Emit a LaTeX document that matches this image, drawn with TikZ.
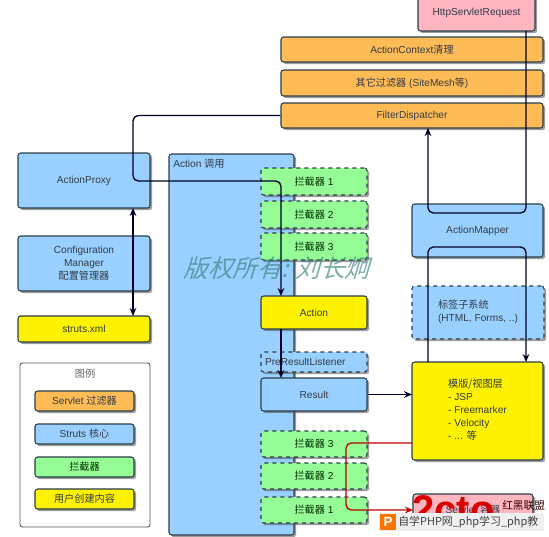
\documentclass[tikz,border=0pt]{standalone}
\usepackage{fontspec}
\setmainfont{Liberation Sans}
\newfontfamily\cjk{Noto Sans CJK SC}
\usetikzlibrary{shadows,arrows.meta}
\definecolor{orangebox}{RGB}{255,187,85}
\definecolor{bluebox}{RGB}{153,208,255}
\definecolor{greenbox}{RGB}{150,252,150}
\definecolor{pinkbox}{RGB}{255,182,193}
\definecolor{edgecol}{RGB}{40,62,72}
\definecolor{inktext}{RGB}{50,60,70}
\tikzset{
  basebox/.style={draw=edgecol,line width=.8pt,rounded corners=2pt,align=center,inner sep=0pt,
    text=inktext,font=\fontsize{7.6}{9.7}\selectfont,
    drop shadow={shadow xshift=1.6pt,shadow yshift=-1.6pt,fill=black!70,opacity=.55}},
  filterbox/.style={basebox,fill=orangebox},
  corebox/.style={basebox,fill=bluebox},
  userbox/.style={basebox,fill=yellow},
  requestbox/.style={basebox,fill=pinkbox},
  greenplain/.style={basebox,fill=greenbox,text=black!70!green!60!black},
  interceptbox/.style={greenplain,dashed},
  dashedcore/.style={basebox,fill=bluebox,dashed},
  legendbox/.style={draw=black!65,line width=.7pt,fill=white,rounded corners=2pt},
  flow/.style={draw=black!85!blue,line width=1pt,rounded corners=4pt,-{Stealth[length=6pt,width=5pt]}},
  plainflow/.style={draw=black!85!blue,line width=1pt,rounded corners=4pt},
  redflow/.style={draw=red!75!black,line width=1pt,rounded corners=4pt,-{Stealth[length=6pt,width=5pt]}},
  wm/.style={text=teal!55!gray,opacity=.65,font=\cjk\fontsize{18.4}{19}\selectfont,transform shape,xslant=.3,inner sep=0pt},
}
% box from pixel corners: name, x1, y1, x2, y2, style, text
\newcommand{\pxbox}[7]{%
  \pgfmathsetmacro{\bw}{(#4-#2)*.75}%
  \pgfmathsetmacro{\bh}{(#5-#3)*.75}%
  \node[#6,minimum width=\bw pt,minimum height=\bh pt] (#1) at ({(#2+#4)/2},{(#3+#5)/2}) {#7};}
\begin{document}
\begin{tikzpicture}[x=.75pt,y=-.75pt]
\useasboundingbox (0,0) rectangle (549,536);
\begin{scope}
\clip (0,0) rectangle (549,536);
% top boxes
\pxbox{req}{418}{-6}{535}{31}{requestbox}{HttpServletRequest}
\pxbox{acc}{281}{37}{543}{62}{filterbox}{ActionContext{\cjk 清理}}
\pxbox{oth}{281}{70}{543}{96}{filterbox}{{\cjk 其它过滤器} (SiteMesh{\cjk 等})}
\pxbox{fd}{281}{103}{543}{128}{filterbox}{FilterDispatcher}
% left column
\pxbox{proxy}{18}{153}{150}{208}{corebox}{ActionProxy}
\pxbox{conf}{18}{236}{150}{291}{corebox}{Configuration\\Manager\\{\cjk 配置管理器}}
\pxbox{xml}{18}{316}{150}{342}{userbox}{struts.xml}
% action container
\pxbox{inv}{169}{154}{294}{535}{corebox}{}
\node[text=inktext,font=\fontsize{7.6}{9}\selectfont,anchor=west,inner sep=0pt] (invlabel) at (173,164) {Action {\cjk 调用}};
% interceptors before
\pxbox{ia}{261}{168}{367}{195}{interceptbox}{{\cjk 拦截器} 1}
\pxbox{ib}{261}{201}{367}{228}{interceptbox}{{\cjk 拦截器} 2}
\pxbox{ic}{261}{233}{367}{260}{interceptbox}{{\cjk 拦截器} 3}
\pxbox{act}{261}{296}{367}{329}{userbox}{Action}
\pxbox{pre}{261}{352}{367}{372}{dashedcore}{PreResultListener\hspace{13pt}}
\pxbox{res}{261}{378}{367}{411}{corebox}{Result}
\pxbox{id}{261}{431}{367}{457}{interceptbox}{{\cjk 拦截器} 3}
\pxbox{ie}{261}{463}{367}{489}{interceptbox}{{\cjk 拦截器} 2}
\pxbox{if}{261}{497}{367}{523}{interceptbox}{{\cjk 拦截器} 1}
% right column
\pxbox{mapper}{412}{204}{543}{257}{corebox}{ActionMapper}
\pxbox{tag}{412}{286}{544}{339}{dashedcore}{\begin{tabular}{@{}l@{}}{\cjk 标签子系统}\\(HTML, Forms, ..)\end{tabular}}
\pxbox{tpl}{412}{362}{543}{460}{userbox}{\begin{tabular}{@{}l@{}}{\cjk 模版/视图层}\\- JSP\\- Freemarker\\- Velocity\\- ... {\cjk 等}\end{tabular}}
\pxbox{cont}{413}{494}{533}{525}{requestbox}{Servlet {\cjk 容器}}
% legend
\pxbox{lg}{20}{363}{150}{527}{legendbox}{}
\node[text=black!60,font=\cjk\fontsize{7.6}{9}\selectfont,inner sep=0pt] (lgt) at (85,374) {图例};
\pxbox{la}{35}{391}{134}{411}{filterbox}{Servlet {\cjk 过滤器}}
\pxbox{lb}{35}{424}{134}{444}{corebox}{Struts {\cjk 核心}}
\pxbox{lc}{35}{457}{134}{477}{greenplain}{{\cjk 拦截器}}
\pxbox{ld}{35}{489}{134}{509}{userbox}{{\cjk 用户创建内容}}
% connector end points
\coordinate (reqOut) at (526,31);
\coordinate (fdIn) at (428,128);
\coordinate (actIn) at (281,296);
\coordinate (actOut) at (281,329);
\coordinate (resIn) at (281,378);
\coordinate (tplA) at (428,362);
\coordinate (tplB) at (526,362);
\coordinate (tplLeft) at (412,394.5);
\coordinate (tplRed) at (412,443);
\coordinate (contIn) at (413,510);
\coordinate (proxyEnd) at (133,208);
\coordinate (xmlEnd) at (133,316);
% connectors
\draw[flow] (reqOut) -- (526,213) -- (428,213) -- (fdIn);
\draw[flow] (fd.west) -- (133,115.5) -- (133,181) -- (281,181) -- (actIn);
\draw[flow] (actOut) -- (resIn);
\draw[flow] (res.east) -- (tplLeft);
\draw[flow] (tplA) -- (428,247) -- (526,247) -- (tplB);
\draw[plainflow,{Stealth[length=6pt,width=5pt]}-{Stealth[length=6pt,width=5pt]}] (proxyEnd) -- (xmlEnd);
\draw[redflow] (tplRed) -- (346,443) -- (346,510) -- (contIn);
% watermarks
\node[wm,anchor=west] (wmark) at (186,268) {版权所有: 刘长炯};
\node[text=red!85!black,font=\bfseries\fontsize{30}{30}\selectfont,anchor=south west,inner sep=0pt] (logo) at (412,524) {2cto};
\node[text=black!80!red,font=\cjk\fontsize{8}{9}\selectfont,anchor=west,inner sep=0pt] (logot) at (502,505) {红黑联盟};
\fill[black!6] (379,513) rectangle (544,531);
\fill[orange!90!red] (380,514) rectangle (396,530);
\node[text=white,font=\bfseries\fontsize{10}{10}\selectfont,inner sep=0pt] (pmark) at (388,522) {P};
\node[text=black!75,font=\cjk\fontsize{8.2}{9}\selectfont,anchor=west,inner sep=0pt] (bar) at (398,522) {自学PHP网\_php学习\_php教};
\end{scope}
\end{tikzpicture}
\end{document}
